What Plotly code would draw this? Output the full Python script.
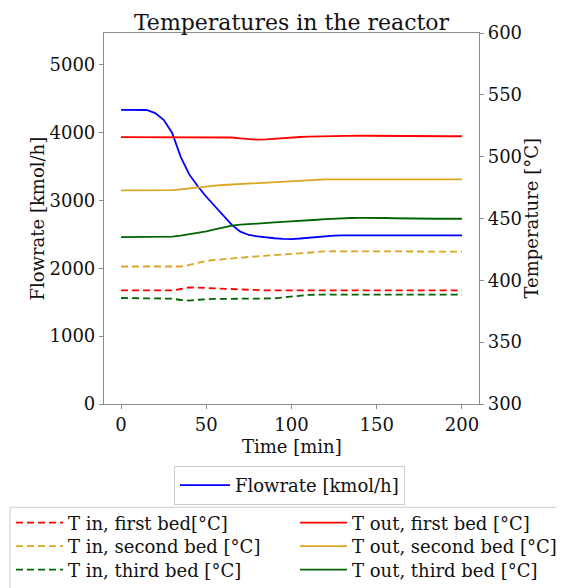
import plotly.graph_objects as go

time_min = list(range(0, 201, 5))

flowrate = [4337, 4337, 4337, 4335, 4290, 4190, 3996, 3645, 3385, 3210,
            3056, 2912, 2770, 2640, 2541, 2492, 2472, 2455, 2444, 2436,
            2432, 2440, 2452, 2465, 2476, 2483, 2486] + [2486] * 14

t_out_first = [515.8] * 13 + [515.5, 514.8, 514.1, 513.7, 514.0, 514.6, 515.2, 515.6,
                              515.9, 516.2, 516.4, 516.6, 516.8, 516.9, 517.0, 517.0,
                              516.9, 516.8, 516.7] + [516.5] * 9
t_out_second = [472.7] * 6 + [473.0, 473.6, 474.5, 475.3, 476.0, 476.6, 477.1, 477.5,
                              477.9, 478.3, 478.6, 479.0, 479.4, 479.9, 480.3, 480.7,
                              481.1, 481.4, 481.6] + [481.7] * 16
t_out_third = [435.0] * 6 + [435.4, 436.2, 437.2, 438.2, 439.6, 441.2, 443.0, 444.2,
                             445.0, 445.6, 445.9, 446.3, 446.8, 447.2, 447.5, 447.8,
                             448.4, 449.0, 449.5, 449.9, 450.2, 450.4, 450.5, 450.6,
                             450.5, 450.4, 450.2, 450.0] + [449.8] * 7
t_in_first = [391.8] * 7 + [393.0, 394.3, 394.1, 393.8, 393.5, 393.2, 392.8, 392.2] + [391.8] * 26
t_in_second = [411.2] * 8 + [412.5, 414.3, 415.6, 416.5, 417.2, 417.8, 418.4, 418.9,
                             419.4, 419.9, 420.5, 421.2, 421.8, 422.4, 422.9, 423.2,
                             423.4] + [423.5] * 6 + [423.2] * 10
t_in_third = [385.7] * 6 + [385.2, 384.1, 383.6, 384.3, 384.8] + [385.0] * 7 + \
             [385.4, 386.2, 387.0, 387.7, 388.2] + [388.4] * 18

x_ticks = [0, 50, 100, 150, 200]
flow_ticks = [0, 1000, 2000, 3000, 4000, 5000]
temp_ticks = [300, 350, 400, 450, 500, 550, 600]

FONT = "DejaVu Serif"
FS = 18
LFS = 18
# page has an 8px body margin; figure coordinates are page coordinates minus 8
W, H = 556, 580
ML, MR, MT, MB = 96, 85, 25, 184
PW, PH = W - ML - MR, H - MT - MB

RED, ORANGE, GREEN, BLUE = "#ff0000", "#daa520", "#006400", "#0000ff"
AX = "#8c8c8c"
TXT = "#111111"

def px_x(px):
    return (px - ML) / PW

def px_y(py):
    return (H - MB - py) / PH

fig = go.Figure()
fig.add_trace(go.Scatter(x=time_min, y=flowrate, mode="lines", name="Flowrate [kmol/h]",
                         line=dict(color=BLUE, width=1.8), yaxis="y", legend="legend"))

# (name, values, colour, dash, legend id, legend left x, legend top y)
row_tops = [496.5, 520, 543.5]
temp_series = [
    ("T in, first bed[°C]", t_in_first, RED, "7px,4px", "legend2", 3, row_tops[0]),
    ("T in, second bed [°C]", t_in_second, ORANGE, "7px,4px", "legend3", 3, row_tops[1]),
    ("T in, third bed [°C]", t_in_third, GREEN, "7px,4px", "legend4", 3, row_tops[2]),
    ("T out, first bed [°C]", t_out_first, RED, "solid", "legend5", 287, row_tops[0]),
    ("T out, second bed [°C]", t_out_second, ORANGE, "solid", "legend6", 287, row_tops[1]),
    ("T out, third bed [°C]", t_out_third, GREEN, "solid", "legend7", 287, row_tops[2]),
]
legend_layouts = {}
for name, vals, col, dash, leg, lx, ly in temp_series:
    fig.add_trace(go.Scatter(x=time_min, y=vals, mode="lines", name=name,
                             line=dict(color=col, width=1.8, dash=dash),
                             yaxis="y2", legend=leg))
    legend_layouts[leg] = dict(xref="container", yref="container", x=lx / W, xanchor="left",
                               y=1 - ly / H, yanchor="top", bgcolor="rgba(0,0,0,0)",
                               borderwidth=0, itemwidth=47, tracegroupgap=0,
                               font=dict(family=FONT, size=LFS, color=TXT))

axis_common = dict(showline=True, linecolor=AX, linewidth=1.2, ticks="outside",
                   ticklen=4, tickcolor=AX, tickwidth=1.2, showgrid=False, zeroline=False,
                   automargin=False, tickangle=0,
                   tickfont=dict(family=FONT, size=FS, color=TXT))

fig.update_layout(
    width=W, height=H,
    showlegend=True,
    margin=dict(l=ML, r=MR, t=MT, b=MB, autoexpand=False),
    paper_bgcolor="white", plot_bgcolor="white",
    font=dict(family=FONT, size=FS, color=TXT),
    title=dict(text="Temperatures in the reactor", x=(ML + PW / 2) / W, xanchor="center",
               y=1 - 14 / H, yanchor="middle", xref="container", yref="container",
               font=dict(family=FONT, size=22, color=TXT)),
    xaxis=dict(range=[-10, 210], tickvals=x_ticks, mirror=True, **axis_common),
    yaxis=dict(range=[0, 5470], tickvals=flow_ticks, **axis_common),
    yaxis2=dict(range=[300, 600], tickvals=temp_ticks, overlaying="y", side="right",
                **axis_common),
    legend=dict(xref="container", yref="container", x=166 / W, xanchor="left",
                y=1 - 458 / H, yanchor="top", bgcolor="white", bordercolor="#cccccc",
                borderwidth=1, itemwidth=50, tracegroupgap=0,
                font=dict(family=FONT, size=LFS, color=TXT)),
    annotations=[
        dict(text="Time [min]", xref="paper", yref="paper", x=0.5, y=px_y(438.5),
             xanchor="center", yanchor="middle", showarrow=False,
             font=dict(family=FONT, size=FS, color=TXT)),
        dict(text="Flowrate [kmol/h]", xref="paper", yref="paper", x=px_x(29), y=0.5,
             xanchor="center", yanchor="middle", textangle=-90, showarrow=False,
             font=dict(family=FONT, size=FS, color=TXT)),
        dict(text="Temperature [°C]", xref="paper", yref="paper", x=px_x(523), y=0.5,
             xanchor="center", yanchor="middle", textangle=-90, showarrow=False,
             font=dict(family=FONT, size=FS, color=TXT)),
    ],
    shapes=[dict(type="rect", xref="paper", yref="paper",
                 x0=px_x(2), x1=px_x(600), y0=px_y(499.3), y1=px_y(620),
                 line=dict(color="#cccccc", width=1), fillcolor="rgba(0,0,0,0)",
                 layer="below")],
)
fig.update_layout(**legend_layouts)

fig.write_html("out.html")
